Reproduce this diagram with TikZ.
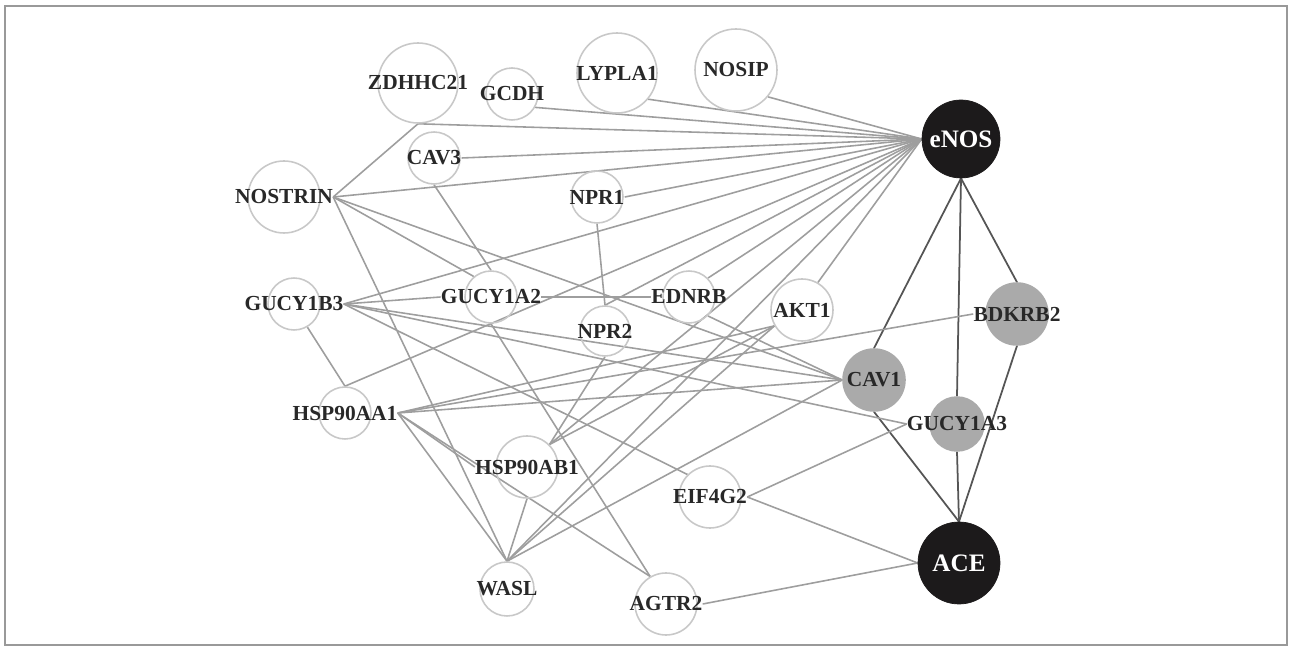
\documentclass[tikz,border=0pt]{standalone}
\usepackage{fontspec}
\setmainfont{Liberation Serif}
\usetikzlibrary{backgrounds}
\definecolor{edgegray}{RGB}{158,158,158}
\definecolor{ringgray}{RGB}{200,200,200}
\definecolor{hubgray}{RGB}{170,170,170}
\definecolor{linkdark}{RGB}{85,85,85}
\definecolor{hubblack}{RGB}{28,26,27}
\definecolor{txtgray}{RGB}{40,40,40}

\begin{document}
\begin{tikzpicture}
  [x=0.02cm,y=-0.02cm,
   rad/.style={minimum size=2*#1*0.02cm},
   gene/.style={circle,draw=ringgray,line width=0.9pt,inner sep=0pt},
   seed/.style={circle,draw=hubgray,fill=hubgray,line width=0.9pt,inner sep=0pt},
   hub/.style={circle,draw=hubblack,fill=hubblack,inner sep=0pt},
   every label/.style={inner sep=0pt,text=txtgray,font=\bfseries\fontsize{12.2}{14}\selectfont},
   hublabel/.style={text=white,font=\bfseries\fontsize{14.3}{16}\selectfont},
   link/.style={draw=edgegray,line width=0.9pt},
   core/.style={draw=linkdark,line width=1pt}]
  \useasboundingbox (0,0) rectangle (1292,651);
  \draw[gray!80,line width=0.6pt] (5,6) rectangle (1287,645);

  % genes
  \node[gene,rad=40,label={[name=zdhhc21-t]center:ZDHHC21}] (zdhhc21) at (418,83) {};
  \node[gene,rad=26,label={[name=gcdh-t]center:GCDH}] (gcdh) at (512,94) {};
  \node[gene,rad=40,label={[name=lypla1-t]center:LYPLA1}] (lypla1) at (617,73) {};
  \node[gene,rad=41,label={[name=nosip-t]center:NOSIP}] (nosip) at (736,70) {};
  \node[gene,rad=26,label={[name=cav3-t]center:CAV3}] (cav3) at (434,158) {};
  \node[gene,rad=36,label={[name=nostrin-t]center:NOSTRIN}] (nostrin) at (284,197) {};
  \node[gene,rad=26,label={[name=npr1-t]center:NPR1}] (npr1) at (597,197) {};
  \node[gene,rad=26,label={[name=gucyb3-t]center:GUCY1B3}] (gucyb3) at (294,304) {};
  \node[gene,rad=26,label={[name=gucya2-t]center:GUCY1A2}] (gucya2) at (491,297) {};
  \node[gene,rad=26,label={[name=ednrb-t]center:EDNRB}] (ednrb) at (689,297) {};
  \node[gene,rad=25,label={[name=npr2-t]center:NPR2}] (npr2) at (605,331) {};
  \node[gene,rad=31,label={[name=akt1-t]center:AKT1}] (akt1) at (802,310) {};
  \node[gene,rad=26,label={[name=hspaa1-t]center:HSP90AA1}] (hspaa1) at (345,413) {};
  \node[gene,rad=31,label={[name=hspab1-t]center:HSP90AB1}] (hspab1) at (527,467) {};
  \node[gene,rad=31,label={[name=eif4g2-t]center:EIF4G2}] (eif4g2) at (710,497) {};
  \node[gene,rad=27,label={[name=wasl-t]center:WASL}] (wasl) at (507,589) {};
  \node[gene,rad=31,label={[name=agtr2-t]center:AGTR2}] (agtr2) at (666,604) {};
  \node[seed,rad=31,label={[name=bdkrb2-t]center:BDKRB2}] (bdkrb2) at (1017,314) {};
  \node[seed,rad=31,label={[name=cav1-t]center:CAV1}] (cav1) at (874,380) {};
  \node[seed,rad=27,label={[name=gucya3-t]center:GUCY1A3}] (gucya3) at (957,424) {};
  \node[hub,rad=39,label={[name=enos-t,hublabel]center:eNOS}] (enos) at (961,139) {};
  \node[hub,rad=41,label={[name=ace-t,hublabel]center:ACE}] (ace) at (959,563) {};

  \begin{scope}[on background layer]
    % eNOS fan
    \draw[link] (enos.west) -- (nosip.-40);
    \draw[link] (enos.west) -- (lypla1.-40);
    \draw[link] (enos.west) -- (gcdh.-30);
    \draw[link] (enos.west) -- (zdhhc21.south);
    \draw[link] (enos.west) -- (cav3-t.east);
    \draw[link] (enos.west) -- (nostrin-t.east);
    \draw[link] (enos.west) -- (npr1-t.east);
    \draw[link] (enos.west) -- (gucyb3-t.east);
    \draw[link] (enos.west) -- (hspaa1.north);
    \draw[link] (enos.west) -- (npr2.north);
    \draw[link] (enos.west) -- (ednrb.45);
    \draw[link] (enos.west) -- (akt1.60);
    \draw[link] (enos.west) -- (hspab1.45);
    \draw[link] (enos.west) -- (wasl.north);
    % core
    \draw[core] (enos.south) -- (cav1.north);
    \draw[core] (enos.south) -- (gucya3.north);
    \draw[core] (enos.south) -- (bdkrb2.north);
    \draw[core] (ace.north) -- (cav1.south);
    \draw[core] (ace.north) -- (gucya3.south);
    \draw[core] (ace.north) -- (bdkrb2.south);
    \draw[link] (ace.west) -- (eif4g2-t.east);
    \draw[link] (ace.west) -- (agtr2-t.east);
    % NOSTRIN
    \draw[link] (nostrin-t.east) -- (zdhhc21.south);
    \draw[link] (nostrin-t.east) -- (gucya2.130);
    \draw[link] (nostrin-t.east) -- (cav1.west);
    \draw[link] (nostrin-t.east) -- (wasl.north);
    \draw[link] (cav3.south) -- (gucya2.north);
    \draw[link] (gucya2.south) -- (agtr2.120);
    \draw[link] (npr1.south) -- (npr2.north);
    % GUCY1B3
    \draw[link] (gucyb3-t.east) -- (gucya2-t.west);
    \draw[link] (gucya2-t.east) -- (ednrb-t.west);
    \draw[link] (gucyb3-t.east) -- (cav1.west);
    \draw[link] (gucyb3-t.east) -- (gucya3-t.west);
    \draw[link] (gucyb3-t.east) -- (eif4g2.135);
    \draw[link] (gucyb3.-60) -- (hspaa1.north);
    % HSP90AA1
    \draw[link] (hspaa1-t.east) -- (akt1.-150);
    \draw[link] (hspaa1-t.east) -- (bdkrb2-t.west);
    \draw[link] (hspaa1-t.east) -- (cav1.west);
    \draw[link] (hspaa1-t.east) -- (hspab1-t.west);
    \draw[link] (hspaa1-t.east) -- (agtr2.120);
    \draw[link] (hspaa1-t.east) -- (wasl.north);
    % HSP90AB1, WASL
    \draw[link] (hspab1.45) -- (akt1.-150);
    \draw[link] (hspab1.45) -- (npr2.south);
    \draw[link] (hspab1.south) -- (wasl.north);
    \draw[link] (wasl.north) -- (akt1.-150);
    \draw[link] (wasl.north) -- (cav1.west);
    \draw[link] (ednrb.-45) -- (cav1.west);
    \draw[link] (eif4g2-t.east) -- (gucya3-t.west);
  \end{scope}
\end{tikzpicture}
\end{document}
